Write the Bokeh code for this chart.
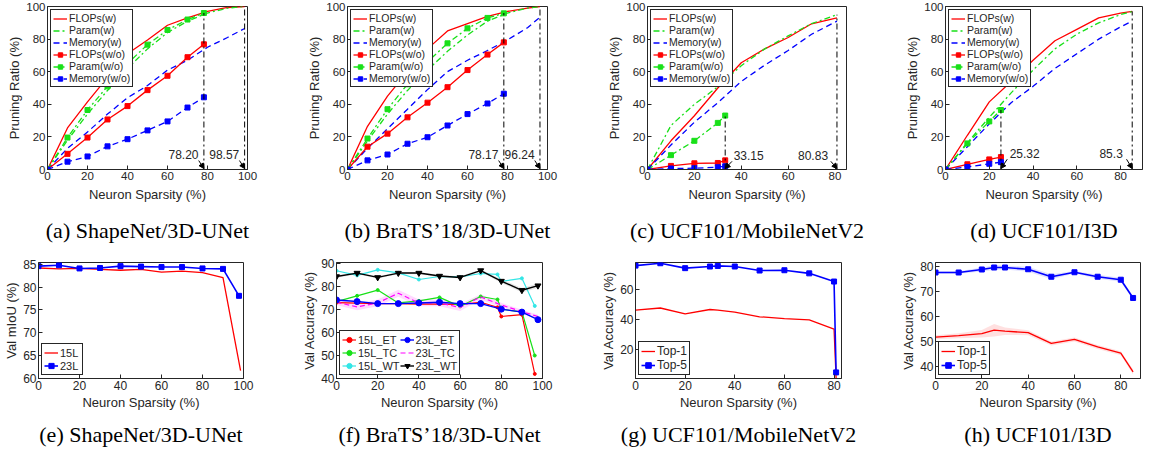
from bokeh.plotting import figure
from bokeh.layouts import row, column
from bokeh.models import (Range1d, FixedTicker, Legend, LegendItem,
                          Title, Arrow, NormalHead)
from bokeh.core.properties import value
from bokeh.embed import file_html
from bokeh.resources import INLINE

FONT = "Liberation Sans"
SERIF = "Liberation Serif"
AXC = "#262626"
RED = "#ff0000"
GREEN = "#18e018"
BLUE = "#0000ff"
CYAN = "#33e6e6"
MAG = "#ff00ff"
BLACK = "#000000"
DASHDOT = "6 3 2 3"
DASH = "6 4"

# ---------------- data ----------------
# (a) ShapeNet/3D-UNet
a_x_w = [0, 10, 20, 30, 40, 50, 60, 70, 80, 90, 98.57]
a_flops_w = [0, 25.5, 41.5, 56.5, 71, 79.5, 88.5, 93, 97, 99.4, 100]
a_param_w = [0, 18, 34, 48.5, 62, 74, 84, 91, 96, 99, 100]
a_mem_w = [0, 13, 23, 34, 44, 51.5, 61, 67, 75, 81, 86.5]
a_x_wo = [0, 10, 20, 30, 40, 50, 60, 70, 78.20]
a_flops_wo = [0, 9.6, 19.6, 30.7, 38.9, 48.7, 57.5, 68.9, 76.8]
a_param_wo = [0, 19.6, 36.5, 51, 65, 76.6, 85.6, 92, 96]
a_mem_wo = [0, 4.8, 8, 14.2, 18.6, 24, 29.5, 38, 44.3]
a_thr = [78.20, 98.57]
a_thr_top = [96, 100]
a_thr_txt = ["78.20", "98.57"]

# (b) BraTS'18/3D-UNet
b_x_w = [0, 10, 20, 30, 40, 50, 60, 70, 80, 90, 96.24]
b_flops_w = [0, 26.5, 45, 60, 74, 85, 89.5, 94, 97, 99, 100]
b_param_w = [0, 17.5, 34, 48.5, 61, 72.5, 82.5, 91, 96, 99, 100]
b_mem_w = [0, 13, 25, 37, 49, 60, 67, 73, 79.5, 87, 93.4]
b_x_wo = [0, 10, 20, 30, 40, 50, 60, 70, 78.17]
b_flops_wo = [0, 14, 22, 32, 41, 50.5, 61, 70.5, 78]
b_param_wo = [0, 19, 37, 52.3, 66, 77.4, 86.6, 93, 95.8]
b_mem_wo = [0, 5.6, 9.2, 15.8, 19.8, 27, 34, 40.5, 46.5]
b_thr = [78.17, 96.24]
b_thr_top = [96, 100]
b_thr_txt = ["78.17", "96.24"]

# (c) UCF101/MobileNetV2
c_x_w = [0, 10, 20, 30, 40, 50, 60, 70, 80.83]
c_flops_w = [0, 17.6, 33, 50, 65.5, 74, 81, 89.4, 93]
c_param_w = [0, 27, 40, 50.7, 63.7, 74, 82, 89.5, 95]
c_mem_w = [0, 15, 29, 41, 54, 64, 73, 83, 91]
c_x_wo = [0, 10, 20, 30, 33.15]
c_flops_wo = [0, 2.2, 3.8, 4.0, 5.6]
c_param_wo = [0, 8.8, 17.6, 28.6, 33.1]
c_mem_wo = [0, 0.6, 0.8, 1.4, 2.0]
c_thr = [33.15, 80.83]
c_thr_top = [33.1, 95]
c_thr_txt = ["33.15", "80.83"]

# (d) UCF101/I3D
d_x_w = [0, 10, 20, 30, 40, 50, 60, 70, 80, 85.3]
d_flops_w = [0, 21, 41.5, 54, 67, 79, 86, 93, 96, 97]
d_param_w = [0, 16.5, 32, 47, 61, 74, 83, 90, 95, 97]
d_mem_w = [0, 14, 28, 41, 51, 62, 71, 80, 87.5, 91]
d_x_wo = [0, 10, 20, 25.32]
d_flops_wo = [0, 3.2, 6.2, 7.6]
d_param_wo = [0, 16, 29.5, 36.5]
d_mem_wo = [0, 1.5, 3.5, 4.5]
d_thr = [25.32, 85.3]
d_thr_top = [36.5, 97]
d_thr_txt = ["25.32", "85.3"]

# (e) ShapeNet/3D-UNet mIoU
e_x15 = [0, 10, 20, 30, 40, 50, 60, 70, 80, 90, 98.57]
e_15L = [84.2, 84.0, 84.1, 83.9, 83.7, 83.9, 83.3, 83.5, 83.2, 82.1, 61.7]
e_x23 = [0, 10, 20, 30, 40, 50, 60, 70, 80, 90, 97.8]
e_23L = [84.6, 84.8, 84.1, 84.2, 84.6, 84.5, 84.4, 84.4, 84.1, 84.0, 78.1]

# (f) BraTS'18/3D-UNet accuracy
f_x15 = [0, 10, 20, 30, 40, 50, 60, 70, 78.17, 80, 90, 96.24]
f_15L_ET = [73, 72.8, 72.6, 72.6, 72.4, 72.4, 72.3, 73.2, 71, 67, 67.8, 42]
f_15L_TC = [73.5, 76, 78.5, 72.9, 73.8, 75.3, 71.4, 75.7, 74.4, 70.2, 69, 50]
f_15L_WT = [86.9, 84.9, 87.3, 86, 83.1, 84.4, 84.2, 85.7, 85.3, 82.3, 83.6, 71.6]
f_x23 = [0, 10, 20, 30, 40, 50, 60, 70, 80, 90, 97.8]
f_23L_ET = [74.2, 73.5, 72.6, 72.6, 72.9, 73.2, 72.6, 72.6, 70.2, 68.9, 65.6]
f_23L_TC = [73.2, 71.2, 72.9, 77.1, 72.9, 72.9, 70.9, 75.5, 72, 69.1, 67]
f_23L_WT = [84.4, 85.9, 84.0, 85.9, 85.9, 84.6, 84.0, 87.0, 82.4, 78.4, 80.4]
f_23L_TC_sd = [1.2, 1.5, 1.5, 1.5, 1.5, 1.5, 1.5, 1.2, 1.0, 0.8, 0.8]
f_23L_WT_sd = [0.5, 0.5, 0.5, 0.5, 0.5, 0.5, 0.5, 0.5, 0.8, 1.0, 1.0]

# (g) UCF101/MobileNetV2 accuracy
g_x = [0, 10, 20, 30, 33.15, 40, 50, 60, 70, 80, 80.83]
g_top1 = [46.4, 47.8, 43.9, 46.8, 46.4, 45, 41.9, 40.6, 39.8, 33.6, 0.6]
g_top5 = [76.3, 77.9, 74.6, 75.7, 76.1, 75.7, 73, 73.2, 71.1, 65.6, 4.5]

# (h) UCF101/I3D accuracy
h_x = [0, 10, 20, 25.32, 30, 40, 50, 60, 70, 80, 85.3]
h_top1 = [51.9, 52.5, 53.3, 54.7, 54.3, 53.7, 49.4, 51, 48, 45.5, 38]
h_top5 = [77.8, 77.8, 79.0, 79.8, 79.8, 79.1, 76.1, 77.9, 76.1, 74.9, 67.6]
h_top1_sd = [0.8, 1.0, 1.5, 2.5, 1.5, 1.0, 0.8, 0.8, 0.8, 0.8, 1.0]
h_top5_sd = [0.5, 0.5, 0.8, 1.0, 0.8, 1.0, 1.0, 0.5, 0.8, 0.8, 0.8]

captions = ["(a) ShapeNet/3D-UNet", "(b) BraTS\u201918/3D-UNet", "(c) UCF101/MobileNetV2",
            "(d) UCF101/I3D", "(e) ShapeNet/3D-UNet", "(f) BraTS\u201918/3D-UNet",
            "(g) UCF101/MobileNetV2", "(h) UCF101/I3D"]


def make_fig(w, h, L, R, T, B, xr, yr, xt, yt, ylab, tick_fs, cap, cap_off, cap_so,
             lab_so=1, tick_so=2, xlab_so=4):
    p = figure(width=w, height=h, x_range=Range1d(*xr), y_range=Range1d(*yr),
               output_backend="svg", toolbar_location=None,
               min_border_left=L, min_border_right=R, min_border_top=T, min_border_bottom=B)
    p.grid.visible = False
    p.background_fill_color = "white"
    p.border_fill_color = "white"
    p.outline_line_color = AXC
    p.outline_line_width = 1
    p.outline_line_alpha = 1
    p.xaxis.ticker = FixedTicker(ticks=xt)
    p.yaxis.ticker = FixedTicker(ticks=yt)
    p.xaxis.axis_label = "Neuron Sparsity (%)"
    p.yaxis.axis_label = ylab
    for ax in (p.xaxis[0], p.yaxis[0]):
        ax.major_tick_in = 4
        ax.major_tick_out = 0
        ax.minor_tick_in = 0
        ax.minor_tick_out = 0
        ax.axis_line_color = AXC
        ax.major_tick_line_color = AXC
        ax.major_label_text_font = FONT
        ax.major_label_text_font_size = tick_fs
        ax.major_label_text_color = AXC
        ax.major_label_standoff = tick_so
        ax.axis_label_text_font = FONT
        ax.axis_label_text_font_size = "13px"
        ax.axis_label_text_font_style = "normal"
        ax.axis_label_text_color = AXC
        ax.axis_label_standoff = lab_so
    p.xaxis[0].axis_label_standoff = xlab_so
    p.add_layout(Title(text=cap, align="center", offset=cap_off, standoff=cap_so,
                       text_font=SERIF, text_font_size="22px", text_font_style="normal",
                       text_color="black"), "below")
    return p


def style_legend(leg, fs, lh, loc):
    leg.location = loc
    leg.margin = 3
    leg.padding = 2
    leg.spacing = 0
    leg.label_standoff = 2
    leg.glyph_width = 14
    leg.glyph_height = lh
    leg.label_height = lh
    leg.label_text_font = FONT
    leg.label_text_font_size = fs
    leg.label_text_color = AXC
    leg.border_line_color = AXC
    leg.border_line_width = 1
    leg.border_line_alpha = 1
    leg.background_fill_alpha = 1


def pruning_panel(p, xw, fw, pw, mw, xwo, fwo, pwo, mwo, thr, thr_top, thr_txt, sides, dx, ty):
    lw = 1.3
    r1 = p.line(xw, fw, line_color=RED, line_width=lw)
    r2 = p.line(xw, pw, line_color=GREEN, line_width=lw, line_dash=DASHDOT)
    r3 = p.line(xw, mw, line_color=BLUE, line_width=lw, line_dash=DASH)
    r4 = p.line(xwo, fwo, line_color=RED, line_width=lw)
    r4m = p.scatter(xwo, fwo, marker="square", size=5, fill_color=RED, line_color=RED)
    r5 = p.line(xwo, pwo, line_color=GREEN, line_width=lw, line_dash=DASHDOT)
    r5m = p.scatter(xwo, pwo, marker="square", size=5, fill_color=GREEN, line_color=GREEN)
    r6 = p.line(xwo, mwo, line_color=BLUE, line_width=lw, line_dash=DASH)
    r6m = p.scatter(xwo, mwo, marker="square", size=5, fill_color=BLUE, line_color=BLUE)
    p.segment(x0=thr, y0=[0] * len(thr), x1=thr, y1=thr_top, line_color=BLACK,
              line_width=1, line_dash=DASHDOT)
    tx, al = [], []
    for t, s in zip(thr, sides):
        if s < 0:
            tx.append(t - dx[0]); al.append("right")
        else:
            tx.append(t + dx[1]); al.append("left")
    for t, s in zip(thr, sides):
        xs = t - 2.6 if s < 0 else t + 2.9
        p.add_layout(Arrow(end=NormalHead(size=5, fill_color=BLACK, line_color=BLACK),
                           x_start=xs, y_start=ty - 3.5, x_end=t, y_end=0.6,
                           line_color=BLACK, line_width=1))
    for x, t, a in zip(tx, thr_txt, al):
        p.text(x=[x], y=[ty], text=[t], text_font=value(FONT), text_font_size="12px",
               text_align=a, text_baseline="middle", text_color=AXC)
    items = [LegendItem(label="FLOPs(w)", renderers=[r1]),
             LegendItem(label="Param(w)", renderers=[r2]),
             LegendItem(label="Memory(w)", renderers=[r3]),
             LegendItem(label="FLOPs(w/o)", renderers=[r4, r4m]),
             LegendItem(label="Param(w/o)", renderers=[r5, r5m]),
             LegendItem(label="Memory(w/o)", renderers=[r6, r6m])]
    leg = Legend(items=items)
    style_legend(leg, "10.5px", 11, "top_left")
    p.add_layout(leg)


# ---------------- top row ----------------
TH, TT = 254, 6
TB = TH - TT - 166
pct = [0, 20, 40, 60, 80, 100]
pa = make_fig(297, TH, 47, 50, TT, TB, (0, 100), (0, 100), pct, pct, "Pruning Ratio (%)",
              "11.5px", captions[0], -8, 23)
pruning_panel(pa, a_x_w, a_flops_w, a_param_w, a_mem_w, a_x_wo, a_flops_wo, a_param_wo,
              a_mem_wo, a_thr, a_thr_top, a_thr_txt, [-1, -1], (2.7, 3.6), 9)
pb = make_fig(301, TH, 50, 51, TT, TB, (0, 100), (0, 100), pct, pct, "Pruning Ratio (%)",
              "11.5px", captions[1], -9, 23)
pruning_panel(pb, b_x_w, b_flops_w, b_param_w, b_mem_w, b_x_wo, b_flops_wo, b_param_wo,
              b_mem_wo, b_thr, b_thr_top, b_thr_txt, [-1, -1], (2.7, 3.6), 9)
pc = make_fig(298, TH, 49, 50, TT, TB, (0, 84.9), (0, 100), [0, 20, 40, 60, 80], pct,
              "Pruning Ratio (%)", "11.5px", captions[2], -8, 23)
pruning_panel(pc, c_x_w, c_flops_w, c_param_w, c_mem_w, c_x_wo, c_flops_wo, c_param_wo,
              c_mem_wo, c_thr, c_thr_top, c_thr_txt, [1, -1], (3.8, 3.6), 8.5)
pd = make_fig(248, TH, 49, 2, TT, TB, (0, 90), (0, 100), [0, 20, 40, 60, 80], pct,
              "Pruning Ratio (%)", "11.5px", captions[3], -9, 23)
pruning_panel(pd, d_x_w, d_flops_w, d_param_w, d_mem_w, d_x_wo, d_flops_wo, d_param_wo,
              d_mem_wo, d_thr, d_thr_top, d_thr_txt, [1, -1], (4.3, 4.0), 9.8)

# ---------------- bottom row ----------------
BH, BT = 199, 8
BB = BH - BT - 121

pe = make_fig(293, BH, 38, 50, BT, BB, (0, 100), (60, 85.4), pct, [60, 65, 70, 75, 80, 85],
              "Val mIoU (%)", "12px", captions[4], -5, 14, xlab_so=2)
re1 = pe.line(e_x15, e_15L, line_color=RED, line_width=1.3)
re2 = pe.line(e_x23, e_23L, line_color=BLUE, line_width=1.6)
re2m = pe.scatter(e_x23, e_23L, marker="square", size=5, fill_color=BLUE, line_color=BLUE)
leg = Legend(items=[LegendItem(label="15L", renderers=[re1]),
                    LegendItem(label="23L", renderers=[re2, re2m])])
style_legend(leg, "11px", 13, "bottom_left")
pe.add_layout(leg)

pf = make_fig(299, BH, 43, 50, BT, BB, (0, 100), (40, 90.5), pct, [40, 50, 60, 70, 80, 90],
              "Val Accuracy (%)", "12px", captions[5], -6, 14, xlab_so=2)
tc_lo = [v - s for v, s in zip(f_23L_TC, f_23L_TC_sd)]
tc_hi = [v + s for v, s in zip(f_23L_TC, f_23L_TC_sd)]
wt_lo = [v - s for v, s in zip(f_23L_WT, f_23L_WT_sd)]
wt_hi = [v + s for v, s in zip(f_23L_WT, f_23L_WT_sd)]
pf.varea(x=f_x23, y1=tc_lo, y2=tc_hi, fill_color=MAG, fill_alpha=0.15)
pf.varea(x=f_x23, y1=wt_lo, y2=wt_hi, fill_color="#808080", fill_alpha=0.2)
rf1 = pf.line(f_x15, f_15L_ET, line_color=RED, line_width=1.2)
rf1m = pf.scatter(f_x15, f_15L_ET, marker="circle", size=3, fill_color=RED, line_color=RED)
rf2 = pf.line(f_x15, f_15L_TC, line_color=GREEN, line_width=1.2)
rf2m = pf.scatter(f_x15, f_15L_TC, marker="circle", size=3, fill_color=GREEN, line_color=GREEN)
rf3 = pf.line(f_x15, f_15L_WT, line_color=CYAN, line_width=1.2)
rf3m = pf.scatter(f_x15, f_15L_WT, marker="circle", size=3, fill_color=CYAN, line_color=CYAN)
rf5 = pf.line(f_x23, f_23L_TC, line_color=MAG, line_width=1.2, line_dash="5 3")
rf4 = pf.line(f_x23, f_23L_ET, line_color=BLUE, line_width=1.4)
rf4m = pf.scatter(f_x23, f_23L_ET, marker="circle", size=6, fill_color=BLUE, line_color=BLUE)
rf6 = pf.line(f_x23, f_23L_WT, line_color=BLACK, line_width=1.4)
rf6m = pf.scatter(f_x23, f_23L_WT, marker="inverted_triangle", size=6, fill_color=BLACK,
                  line_color=BLACK)
leg = Legend(items=[LegendItem(label="15L_ET", renderers=[rf1, rf1m]),
                    LegendItem(label="15L_TC", renderers=[rf2, rf2m]),
                    LegendItem(label="15L_WT", renderers=[rf3, rf3m]),
                    LegendItem(label="23L_ET", renderers=[rf4, rf4m]),
                    LegendItem(label="23L_TC", renderers=[rf5]),
                    LegendItem(label="23L_WT", renderers=[rf6, rf6m])], nrows=3)
style_legend(leg, "11px", 13, "bottom_left")
pf.add_layout(leg)

pg = make_fig(300, BH, 43, 51, BT, BB, (0, 83), (0.4, 78.4), [0, 20, 40, 60, 80], [20, 40, 60],
              "Val Accuracy (%)", "12px", captions[6], -3, 14, xlab_so=2)
rg1 = pg.line(g_x, g_top1, line_color=RED, line_width=1.3)
rg2 = pg.line(g_x, g_top5, line_color=BLUE, line_width=1.6)
rg2m = pg.scatter(g_x, g_top5, marker="square", size=5, fill_color=BLUE, line_color=BLUE)
leg = Legend(items=[LegendItem(label="Top-1", renderers=[rg1]),
                    LegendItem(label="Top-5", renderers=[rg2, rg2m])])
style_legend(leg, "12px", 14, "bottom_left")
pg.add_layout(leg)

ph = make_fig(252, BH, 43, 4, BT, BB, (0, 88.5), (35.35, 81.8), [0, 20, 40, 60, 80],
              [40, 50, 60, 70, 80], "Val Accuracy (%)", "12px", captions[7], -5, 14, xlab_so=2)
t1_lo = [v - s for v, s in zip(h_top1, h_top1_sd)]
t1_hi = [v + s for v, s in zip(h_top1, h_top1_sd)]
t5_lo = [v - s for v, s in zip(h_top5, h_top5_sd)]
t5_hi = [v + s for v, s in zip(h_top5, h_top5_sd)]
ph.varea(x=h_x, y1=t1_lo, y2=t1_hi, fill_color=RED, fill_alpha=0.12)
ph.varea(x=h_x, y1=t5_lo, y2=t5_hi, fill_color=BLUE, fill_alpha=0.12)
rh1 = ph.line(h_x, h_top1, line_color=RED, line_width=1.3)
rh2 = ph.line(h_x, h_top5, line_color=BLUE, line_width=1.6)
rh2m = ph.scatter(h_x, h_top5, marker="square", size=5, fill_color=BLUE, line_color=BLUE)
leg = Legend(items=[LegendItem(label="Top-1", renderers=[rh1]),
                    LegendItem(label="Top-5", renderers=[rh2, rh2m])])
style_legend(leg, "12px", 14, "bottom_left")
ph.add_layout(leg)

layout = column(row(pa, pb, pc, pd, spacing=0), row(pe, pf, pg, ph, spacing=0), spacing=0)

open("out.html", "w").write(file_html(layout, INLINE))
